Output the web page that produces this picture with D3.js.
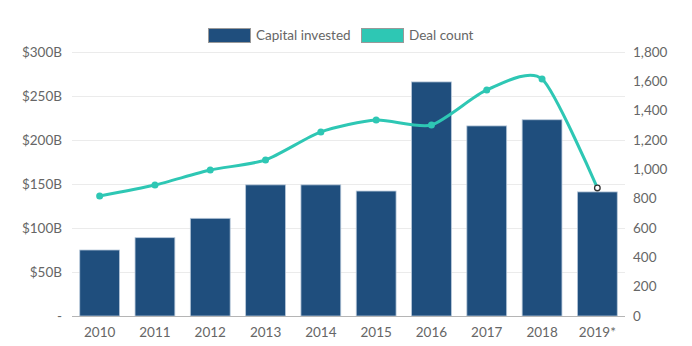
<!DOCTYPE html>
<html>
<head>
<meta charset="utf-8">
<script src="https://cdn.jsdelivr.net/npm/d3@7"></script>
<style>
  body { margin: 0; background: #fff; }
  text { font-family: "Lato", "Noto Sans", sans-serif; fill: #666; }
</style>
</head>
<body>
<div id="chart"></div>
<script>
// yearly data
const years = ["2010", "2011", "2012", "2013", "2014", "2015", "2016", "2017", "2018", "2019*"];
const capital = [75, 89, 111, 149, 149, 142, 266, 216, 223, 141];   // $B
const deals = [818, 893, 995, 1064, 1255, 1336, 1302, 1541, 1616, 873];
const leftTicks = [0, 50, 100, 150, 200, 250, 300];
const rightTicks = [0, 200, 400, 600, 800, 1000, 1200, 1400, 1600, 1800];

const width = 692, height = 346;
const margin = {top: 52, right: 67, bottom: 30, left: 72};

let svg = d3.select("#chart")
    .append("svg")
    .attr("width", width)
    .attr("height", height);

let x = d3.scaleBand()
    .domain(years)
    .range([margin.left, width - margin.right])
    .paddingInner(0.28)
    .paddingOuter(0.14);

let yL = d3.scaleLinear()
    .domain([0, 300])
    .range([height - margin.bottom, margin.top]);

let yR = d3.scaleLinear()
    .domain([0, 1800])
    .range([height - margin.bottom, margin.top]);

// gridlines from left axis
svg.append("g")
    .selectAll("line")
    .data(leftTicks.slice(1))
    .enter()
    .append("line")
    .attr("x1", margin.left)
    .attr("x2", width - margin.right)
    .attr("y1", d => yL(d) + 0.5)
    .attr("y2", d => yL(d) + 0.5)
    .attr("stroke", "#ebebeb");

// left axis
svg.append("g")
    .attr("transform", `translate(${margin.left}, 0)`)
    .call(d3.axisLeft(yL).tickValues(leftTicks).tickSize(0).tickPadding(10)
        .tickFormat(d => d === 0 ? "-" : "$" + d + "B"))
    .call(g => g.select(".domain").remove())
    .selectAll("text")
    .style("font-size", "13.5px")
    .attr("fill", "#666");

// right axis
svg.append("g")
    .attr("transform", `translate(${width - margin.right}, 0)`)
    .call(d3.axisRight(yR).tickValues(rightTicks).tickSize(0).tickPadding(8)
        .tickFormat(d3.format(",")))
    .call(g => g.select(".domain").remove())
    .selectAll("text")
    .style("font-size", "13.5px")
    .attr("fill", "#666");

// bars
svg.append("g")
    .selectAll("rect")
    .data(capital)
    .enter()
    .append("rect")
    .attr("x", (d, i) => x(years[i]))
    .attr("y", d => yL(d))
    .attr("width", x.bandwidth())
    .attr("height", d => yL(0) - yL(d))
    .attr("fill", "#1f4e7d")
    .attr("stroke", "#b7c8da")
    .attr("stroke-width", 0.8);

// bottom axis
svg.append("g")
    .attr("transform", `translate(0, ${yL(0)})`)
    .call(d3.axisBottom(x).tickSize(0).tickPadding(11))
    .call(g => g.select(".domain").attr("stroke", "#b5b5b5").attr("d", `M${margin.left},0.5H${width - margin.right}`))
    .selectAll("text")
    .style("font-size", "13.5px")
    .attr("fill", "#666");

// deal count line
let line = d3.line()
    .x((d, i) => x(years[i]) + x.bandwidth() / 2)
    .y(d => yR(d))
    .curve(d3.curveCardinal.tension(0.3));

svg.append("path")
    .datum(deals)
    .attr("fill", "none")
    .attr("stroke", "#2ec7b4")
    .attr("stroke-width", 3)
    .attr("d", line);

svg.append("g")
    .selectAll("circle")
    .data(deals)
    .enter()
    .append("circle")
    .attr("cx", (d, i) => x(years[i]) + x.bandwidth() / 2)
    .attr("cy", d => yR(d))
    .attr("r", (d, i) => i === deals.length - 1 ? 2.8 : 3.5)
    .attr("fill", (d, i) => i === deals.length - 1 ? "#fff" : "#2ec7b4")
    .attr("stroke", (d, i) => i === deals.length - 1 ? "#333" : "none")
    .attr("stroke-width", 1.3);

// legend
const legend = [
    {label: "Capital invested", color: "#1f4e7d", x: 208},
    {label: "Deal count", color: "#2ec7b4", x: 361}
];
let lg = svg.append("g");
lg.selectAll("rect")
    .data(legend)
    .enter()
    .append("rect")
    .attr("x", d => d.x + 0.5)
    .attr("y", 28.5)
    .attr("width", 42)
    .attr("height", 14)
    .attr("fill", d => d.color)
    .attr("stroke", "#999")
    .attr("stroke-width", 1);
lg.selectAll("text")
    .data(legend)
    .enter()
    .append("text")
    .attr("x", d => d.x + 48)
    .attr("y", 40)
    .style("font-size", "13.5px")
    .text(d => d.label);
</script>
</body>
</html>
